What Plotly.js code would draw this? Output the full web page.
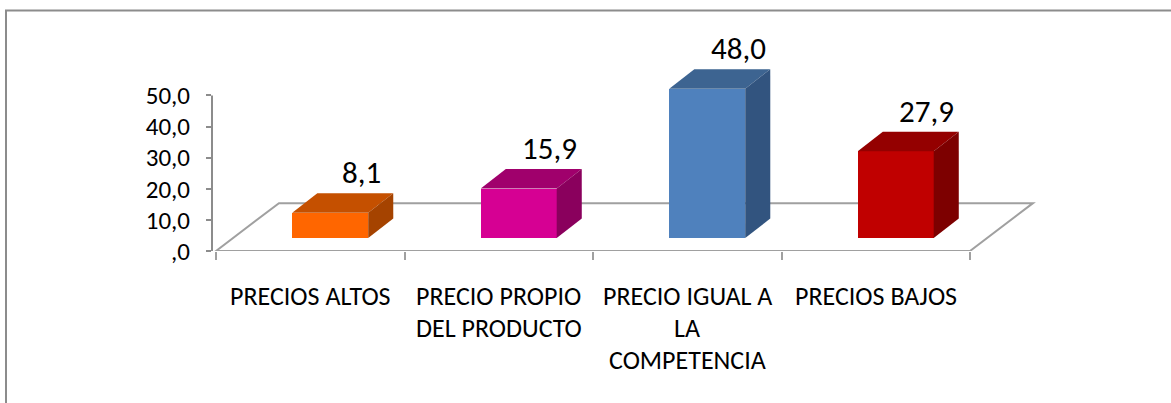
<!DOCTYPE html>
<html>
<head>
<meta charset="utf-8">
<script src="https://cdn.plot.ly/plotly-3.0.1.min.js"></script>
<style>
  html, body { margin: 0; padding: 0; background: #ffffff; }
  #chart { width: 1171px; height: 403px; }
</style>
</head>
<body>
<div id="chart"></div>
<script>
// ---- data ----
const categories = ['PRECIOS ALTOS', 'PRECIO PROPIO\nDEL PRODUCTO', 'PRECIO IGUAL A\nLA\nCOMPETENCIA', 'PRECIOS BAJOS'];
const values = [8.1, 15.9, 48.0, 27.9];
const yTickVals = [0, 10, 20, 30, 40, 50];
const yTickText = [',0', '10,0', '20,0', '30,0', '40,0', '50,0'];

// ---- styles ----
const frontColors = ['#FF6600', '#D60093', '#4F81BD', '#C00000'];
const topColors   = ['#C55000', '#A0006C', '#3D6491', '#940000'];
const sideColors  = ['#A54300', '#8A005D', '#32547F', '#7D0000'];
const FONT = 'Calibri, Carlito, "Liberation Sans", Arial, sans-serif';
const GRAY = '#8C8C8C';
const FLOOR_GRAY = '#A0A0A0';

// geometry (in axis units)
const floorDX = 0.334, floorDY = 15.38;   // floor depth
const barOffX = 0.106, barBase = 4.17;    // bar front-face position inside the floor
const barW = 0.403;                        // bar width
const depthDX = 0.133, depthDY = 6.25;    // bar depth
const labelDX = 0.165;

const n = categories.length;
const centers = categories.map((_, i) => i);
const fmt = v => (v === 0 ? ',0' : v.toFixed(1).replace('.', ','));

const traces = [];

// bar front faces
traces.push({
  type: 'bar',
  x: centers.map(c => c + barOffX),
  y: values,
  base: values.map(() => barBase),
  width: values.map(() => barW),
  marker: { color: frontColors, line: { width: 0 } },
  hoverinfo: 'skip',
  cliponaxis: false,
  showlegend: false
});

// top and side faces
values.forEach((v, i) => {
  const xl = centers[i] + barOffX - barW / 2;
  const xr = centers[i] + barOffX + barW / 2;
  const yb = barBase, yt = barBase + v;
  traces.push({
    type: 'scatter', mode: 'lines', fill: 'toself',
    x: [xl, xl + depthDX, xr + depthDX, xr, xl],
    y: [yt, yt + depthDY, yt + depthDY, yt, yt],
    fillcolor: topColors[i], line: { width: 0, color: topColors[i] },
    hoverinfo: 'skip', showlegend: false, cliponaxis: false
  });
  traces.push({
    type: 'scatter', mode: 'lines', fill: 'toself',
    x: [xr, xr + depthDX, xr + depthDX, xr, xr],
    y: [yb, yb + depthDY, yt + depthDY, yt, yb],
    fillcolor: sideColors[i], line: { width: 0, color: sideColors[i] },
    hoverinfo: 'skip', showlegend: false, cliponaxis: false
  });
});

// pixel layout
const W = 1171, H = 403;
const plotL = 212, plotR = 1040, plotB = 251, plotT = 57.5;
const pxPerX = 188.5, pxPerY = 3.12;
const xMin = -0.5 - (216 - plotL) / pxPerX;
const xMax = xMin + (plotR - plotL) / pxPerX;
const yMax = (plotB - plotT) / pxPerY;
const pw = plotR - plotL, ph = plotB - plotT;

const annotations = [];
values.forEach((v, i) => {
  annotations.push({
    x: centers[i] + barOffX + labelDX, y: barBase + v + depthDY,
    xref: 'x', yref: 'y', text: fmt(v), showarrow: false,
    xanchor: 'center', yanchor: 'middle', yshift: 21,
    font: { family: FONT, size: 31, color: '#000000' }
  });
});
categories.forEach((c, i) => {
  c.split('\n').forEach((line, k) => {
    annotations.push({
      x: centers[i], y: 0, xref: 'x', yref: 'y', text: line, showarrow: false,
      xanchor: 'center', yanchor: 'middle', yshift: -(45 + 32 * k),
      font: { family: FONT, size: 26, color: '#000000' }
    });
  });
});

const shapes = [
  // floor
  {
    type: 'path', layer: 'below', xref: 'x', yref: 'y',
    path: `M ${-0.5} 0 L ${-0.5 + floorDX} ${floorDY} L ${n - 0.5 + floorDX} ${floorDY} L ${n - 0.5} 0 Z`,
    line: { color: FLOOR_GRAY, width: 2 }, fillcolor: 'rgba(0,0,0,0)'
  },
  // value axis line
  {
    type: 'line', layer: 'below', xref: 'paper', yref: 'y', x0: 0, x1: 0, y0: 0, y1: yTickVals[yTickVals.length - 1],
    line: { color: GRAY, width: 2 }
  },
  // chart frame
  {
    type: 'rect', xref: 'paper', yref: 'paper',
    x0: (6 - plotL) / pw, x1: (W + 20 - plotL) / pw,
    y0: (plotB - (H + 20)) / ph, y1: (plotB - 10) / ph,
    line: { color: GRAY, width: 2 }, fillcolor: 'rgba(0,0,0,0)'
  }
];

const layout = {
  width: W, height: H,
  margin: { l: plotL, r: W - plotR, t: plotT, b: H - plotB, pad: 0 },
  paper_bgcolor: '#ffffff', plot_bgcolor: 'rgba(0,0,0,0)',
  showlegend: false,
  xaxis: {
    type: 'linear', range: [xMin, xMax], fixedrange: true,
    showgrid: false, zeroline: false, showline: false,
    tickmode: 'array', tickvals: categories.map((_, i) => i - 0.5).concat([n - 0.5]),
    ticks: 'outside', ticklen: 8, tickwidth: 2, tickcolor: FLOOR_GRAY,
    showticklabels: false
  },
  yaxis: {
    range: [0, yMax], fixedrange: true,
    showgrid: false, zeroline: false, showline: false,
    tickmode: 'array', tickvals: yTickVals, ticktext: yTickText,
    ticks: 'outside', ticklen: 5, tickwidth: 2, tickcolor: GRAY,
    ticklabelstandoff: 11,
    tickfont: { family: FONT, size: 25, color: '#000000' }
  },
  annotations: annotations,
  shapes: shapes,
  bargap: 0
};

Plotly.newPlot('chart', traces, layout, { displayModeBar: false, staticPlot: true });
</script>
</body>
</html>
